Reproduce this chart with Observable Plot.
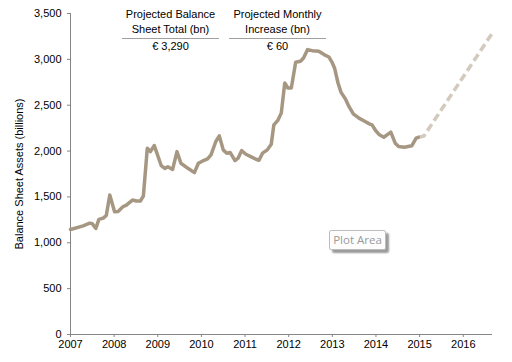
<!DOCTYPE html>
<html>
<head>
<meta charset="utf-8">
<script src="https://cdn.jsdelivr.net/npm/d3@7"></script>
<script src="https://cdn.jsdelivr.net/npm/@observablehq/plot@0.6"></script>
<style>
  html, body { margin: 0; padding: 0; background: #fff; }
  #wrap { position: relative; width: 512px; height: 362px; overflow: hidden; font-family: "Liberation Sans", Arial, sans-serif; }
  #wrap svg { position: absolute; left: 0; top: 0; }
  .hdr { position: absolute; text-align: center; font-size: 11px; line-height: 15px; color: #000; }
  .hdr .t { border-bottom: 1px solid #a0a0a0; padding-bottom: 1px; }
  .hdr .v { line-height: 15px; }
  #tip { position: absolute; left: 329px; top: 230px; width: 55px; height: 18px; border: 1px solid #bdbdbd; border-radius: 2px; background: #fdfdfd;
         box-shadow: 3px 3px 2px #9a9a9a; font-family: "Open Sans", "Noto Sans", sans-serif; font-size: 11.5px; color: #9a9a9a; text-align: center; line-height: 18px; }
</style>
</head>
<body>
<div id="wrap"></div>
<script>
// Observed balance sheet (year, bn EUR)
const years = [2007.00, 2007.29, 2007.44, 2007.50, 2007.58, 2007.65, 2007.75, 2007.82, 2007.90, 2008.01,
  2008.09, 2008.20, 2008.28, 2008.42, 2008.51, 2008.60, 2008.67, 2008.76, 2008.83, 2008.92,
  2009.08, 2009.16, 2009.23, 2009.34, 2009.44, 2009.53, 2009.69, 2009.84, 2009.93, 2010.03,
  2010.14, 2010.22, 2010.33, 2010.41, 2010.50, 2010.58, 2010.66, 2010.77, 2010.84, 2010.92,
  2011.02, 2011.13, 2011.25, 2011.32, 2011.40, 2011.51, 2011.60, 2011.66, 2011.75, 2011.83,
  2011.91, 2011.98, 2012.06, 2012.16, 2012.27, 2012.34, 2012.43, 2012.54, 2012.69, 2012.81,
  2012.92, 2013.00, 2013.05, 2013.13, 2013.20, 2013.30, 2013.38, 2013.48, 2013.61, 2013.72,
  2013.86, 2013.91, 2013.99, 2014.08, 2014.18, 2014.34, 2014.44, 2014.52, 2014.65, 2014.82,
  2014.92, 2014.97];
const assets = [1145, 1185, 1214, 1207, 1156, 1255, 1269, 1298, 1520, 1338,
  1342, 1393, 1411, 1466, 1455, 1455, 1510, 2031, 1994, 2060,
  1840, 1810, 1830, 1800, 1994, 1867, 1812, 1765, 1867, 1892,
  1914, 1958, 2104, 2166, 2013, 1977, 1984, 1896, 1922, 2005,
  1965, 1940, 1911, 1900, 1977, 2013, 2075, 2286, 2334, 2414,
  2742, 2688, 2688, 2968, 2979, 3015, 3106, 3095, 3088, 3052,
  3026, 2961, 2906, 2742, 2640, 2567, 2487, 2406, 2359, 2330,
  2294, 2286, 2224, 2177, 2151, 2206, 2086, 2049, 2042, 2057,
  2141, 2150];
// Projection
const projYears = [2014.97, 2015.10, 2016.67];
const projAssets = [2150, 2165, 3290];

const xTicks = [2007, 2008, 2009, 2010, 2011, 2012, 2013, 2014, 2015, 2016];
const yTicks = [0, 500, 1000, 1500, 2000, 2500, 3000, 3500];
const yLabel = "Balance Sheet Assets (billions)";
const headers = [
  {title: ["Projected Balance", "Sheet Total (bn)"], value: "€ 3,290"},
  {title: ["Projected Monthly", "Increase (bn)"], value: "€ 60"}
];

const solid = years.map((x, i) => ({x, y: assets[i]}));
const proj = projYears.map((x, i) => ({x, y: projAssets[i]}));
const axisColor = "#868686";

const chart = Plot.plot({
  width: 512, height: 362,
  marginLeft: 70, marginRight: 20, marginTop: 13, marginBottom: 28,
  x: {domain: [2007, 2016.67]},
  y: {domain: [0, 3500]},
  style: {fontFamily: "'Liberation Sans', Arial, sans-serif", fontSize: "11px", color: "#000", background: "#fff", overflow: "visible"},
  marks: [
    Plot.axisY({ticks: yTicks, tickFormat: d3.format(","), tickSize: 3, tickPadding: 6, stroke: axisColor, fill: "#000",
      label: yLabel, labelAnchor: "center", labelOffset: 55, labelArrow: "none"}),
    Plot.axisX({ticks: xTicks, tickFormat: d => String(d), tickSize: 3, tickPadding: 3, stroke: axisColor, fill: "#000", label: null}),
    Plot.ruleX([2007], {stroke: axisColor}),
    Plot.ruleY([0], {stroke: axisColor}),
    Plot.line(proj, {x: "x", y: "y", stroke: "#d3cabe", strokeWidth: 3.5, strokeDasharray: "8,4", strokeLinecap: "butt"}),
    Plot.line(solid, {x: "x", y: "y", stroke: "#a69782", strokeWidth: 3.5})
  ]
});
const wrap = document.getElementById("wrap");
wrap.appendChild(chart);

// Header table
const hdrPos = [{left: 122, width: 97}, {left: 229, width: 97}];
headers.forEach((h, i) => {
  const d = document.createElement("div");
  d.className = "hdr";
  d.style.left = hdrPos[i].left + "px";
  d.style.width = hdrPos[i].width + "px";
  d.style.top = "7px";
  d.innerHTML = `<div class="t">${h.title[0]}<br>${h.title[1]}</div><div class="v">${h.value}</div>`;
  wrap.appendChild(d);
});
const tip = document.createElement("div");
tip.id = "tip";
tip.textContent = "Plot Area";
wrap.appendChild(tip);
</script>
</body>
</html>
